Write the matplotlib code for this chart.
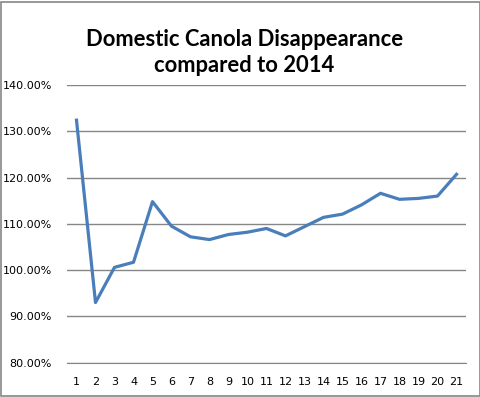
import matplotlib
matplotlib.use('Agg')
import matplotlib.pyplot as plt
from matplotlib.patches import Rectangle
from matplotlib.ticker import PercentFormatter

# data
periods = list(range(1, 22))
ratio = [132.4, 93.0, 100.6, 101.7, 114.8, 109.5, 107.2, 106.6, 107.7, 108.2,
         109.0, 107.4, 109.4, 111.4, 112.1, 114.1, 116.6, 115.3, 115.5, 116.0, 120.7]
y_ticks = [80, 90, 100, 110, 120, 130, 140]
title = 'Domestic Canola Disappearance\ncompared to 2014'

fig = plt.figure(figsize=(4.81, 3.97), dpi=100)
ax = fig.add_axes([0.1393, 0.0864, 0.8295, 0.6995])

ax.plot(periods, ratio, color='#4a7ebb', linewidth=2.3, solid_joinstyle='round')

ax.set_xlim(0.5, 21.5)
ax.set_ylim(80, 140)
ax.set_yticks(y_ticks)
ax.set_xticks(periods)
ax.yaxis.set_major_formatter(PercentFormatter(decimals=2))
ax.grid(axis='y', color='#868686', linewidth=1)
ax.set_axisbelow(True)
for s in ['left', 'right', 'top']:
    ax.spines[s].set_visible(False)
ax.spines['bottom'].set_color('#868686')
ax.tick_params(length=0, labelsize=8, colors='#000000')
ax.tick_params(axis='y', pad=11)
ax.tick_params(axis='x', pad=10)

fig.text(0.508, 0.867, title, ha='center', va='center', fontsize=15.8,
         fontweight='bold', family='Lato', linespacing=1.3)

# outer chart border
fig.patches.append(Rectangle((0.002, 0.003), 0.995, 0.993, transform=fig.transFigure,
                             fill=False, edgecolor='#868686', linewidth=1.2))

plt.savefig('out.png', dpi=100)
